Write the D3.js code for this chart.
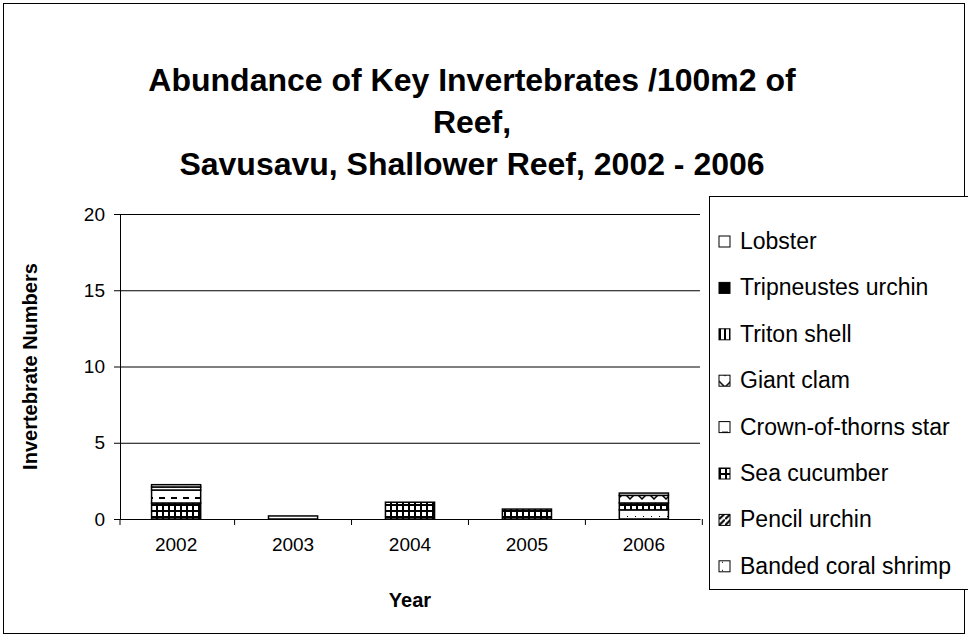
<!DOCTYPE html>
<html>
<head>
<meta charset="utf-8">
<script src="https://cdn.jsdelivr.net/npm/d3@7"></script>
<style>
  body { margin: 0; background: #fff; }
  text { font-family: "Liberation Sans", Arial, sans-serif; }
</style>
</head>
<body>
<script>
const w = 968;
const h = 637;

// data
const years = ['2002', '2003', '2004', '2005', '2006'];
// stacked bottom -> top (legend shows them reversed)
const species = ['Banded coral shrimp', 'Pencil urchin', 'Sea cucumber', 'Crown-of-thorns star',
  'Giant clam', 'Triton shell', 'Tripneustes urchin', 'Lobster'];
const bandedShrimp = [0, 0, 0, 0, 0.6];
const pencilUrchin = [0, 0, 0, 0, 0];
const seaCucumber = [1.05, 0, 1.1, 0.65, 0.45];
const crownOfThorns = [0.85, 0.2, 0, 0, 0];
const giantClam = [0.2, 0, 0, 0, 0.5];
const tritonShell = [0, 0, 0, 0, 0];
const tripneustes = [0, 0, 0, 0, 0];
const lobster = [0.15, 0, 0, 0, 0.15];
const yTicks = [0, 5, 10, 15, 20];

const seriesValues = [bandedShrimp, pencilUrchin, seaCucumber, crownOfThorns,
  giantClam, tritonShell, tripneustes, lobster];

let rows = years.map((yr, i) => {
  let r = { year: yr };
  species.forEach((s, j) => (r[s] = seriesValues[j][i]));
  return r;
});

let svg = d3.select('body').append('svg').attr('width', w).attr('height', h);

// patterns (black & white fills like the original)
let defs = svg.append('defs');
function pat(id, size, draw) {
  let p = defs.append('pattern').attr('id', id).attr('patternUnits', 'userSpaceOnUse')
    .attr('width', size).attr('height', size);
  p.append('rect').attr('width', size).attr('height', size).attr('fill', '#fff');
  draw(p);
}
pat('p0', 8, (p) => p.append('rect').attr('x', 3).attr('y', 4).attr('width', 1).attr('height', 1).attr('fill', '#000'));
pat('p1', 6, (p) => p.append('path').attr('d', 'M0,6 L6,0').attr('stroke', '#000').attr('stroke-width', 2));
pat('p2', 6, (p) => {
  p.append('rect').attr('x', 0).attr('y', 0).attr('width', 2).attr('height', 6).attr('fill', '#000');
  p.append('rect').attr('x', 0).attr('y', 0).attr('width', 6).attr('height', 2).attr('fill', '#000');
});
pat('p3', 12, (p) => p.append('rect').attr('x', 3).attr('y', 5).attr('width', 6).attr('height', 2).attr('fill', '#000'));
pat('p4', 12, (p) => p.append('path').attr('d', 'M0,1 L6,7 L12,1').attr('fill', 'none').attr('stroke', '#000').attr('stroke-width', 1.5));
pat('p5', 5, (p) => p.append('rect').attr('x', 0).attr('y', 0).attr('width', 2).attr('height', 5).attr('fill', '#000'));
pat('p6', 4, (p) => p.append('rect').attr('width', 4).attr('height', 4).attr('fill', '#000'));
pat('p7', 4, (p) => {});

// outer frame
svg.append('rect').attr('x', 3.5).attr('y', 3.5).attr('width', w - 7).attr('height', h - 7)
  .attr('fill', 'none').attr('stroke', '#000');

// title
let title = svg.append('text').attr('text-anchor', 'middle').attr('font-size', 32)
  .attr('font-weight', 'bold');
['Abundance of Key Invertebrates /100m2 of', 'Reef,', 'Savusavu, Shallower Reef, 2002 - 2006']
  .forEach((t, i) => title.append('tspan').attr('x', 472).attr('y', 91 + i * 42).text(t));

const m = { left: 120, right: 700, top: 214, bottom: 519 };

let x = d3.scaleBand().domain(years).range([m.left, m.right]).paddingInner(0.58).paddingOuter(0.27);
let y = d3.scaleLinear().domain([0, 20]).range([m.bottom, m.top]);

// gridlines
svg.append('g').selectAll('line').data(yTicks.slice(1)).enter().append('line')
  .attr('x1', m.left).attr('x2', m.right)
  .attr('y1', (d) => y(d) + 0.5).attr('y2', (d) => y(d) + 0.5)
  .attr('stroke', '#000');

// bars
let stack = d3.stack().keys(species)(rows);
svg.append('g').selectAll('g').data(stack).enter().append('g')
  .attr('fill', (d, i) => 'url(#p' + i + ')')
  .selectAll('rect').data((d) => d.filter((v) => v[1] - v[0] > 0)).enter().append('rect')
  .attr('x', (d) => x(d.data.year))
  .attr('width', x.bandwidth())
  .attr('y', (d) => y(d[1]))
  .attr('height', (d) => y(d[0]) - y(d[1]))
  .attr('stroke', '#000').attr('stroke-width', 1.5);

// axes
let yAxis = svg.append('g').attr('transform', 'translate(' + m.left + ',0)')
  .call(d3.axisLeft(y).tickValues(yTicks).tickSize(6).tickPadding(9));
let xAxis = svg.append('g').attr('transform', 'translate(0,' + m.bottom + ')')
  .call(d3.axisBottom(x).tickSize(0).tickPadding(19));
xAxis.selectAll('.tick').append('line').attr('x1', x.step() / 2).attr('x2', x.step() / 2)
  .attr('y2', 6).attr('stroke', '#000');
xAxis.append('line').attr('x1', m.left).attr('x2', m.left).attr('y2', 6).attr('stroke', '#000');
[yAxis, xAxis].forEach((a) => {
  a.select('.domain').attr('stroke', '#000');
  a.selectAll('text').attr('font-size', 19).attr('fill', '#000')
    .attr('font-family', '"Liberation Sans", Arial, sans-serif');
});

// axis titles
svg.append('text').attr('transform', 'translate(37,' + (m.top + m.bottom) / 2 + ') rotate(-90)')
  .attr('text-anchor', 'middle').attr('font-size', 20).attr('font-weight', 'bold')
  .text('Invertebrate Numbers');
svg.append('text').attr('x', 410).attr('y', 607)
  .attr('text-anchor', 'middle').attr('font-size', 20).attr('font-weight', 'bold').text('Year');

// legend
svg.append('rect').attr('x', 709.5).attr('y', 196.5).attr('width', 262).attr('height', 393)
  .attr('fill', '#fff').attr('stroke', '#000');
let legendItems = species.slice().reverse();
let lg = svg.append('g').selectAll('g').data(legendItems).enter().append('g')
  .attr('transform', (d, i) => 'translate(719,' + (241 + i * 46.4) + ')');
lg.append('rect').attr('x', 0).attr('y', -5).attr('width', 11).attr('height', 11)
  .attr('fill', (d) => 'url(#p' + species.indexOf(d) + ')').attr('stroke', '#000');
lg.append('text').attr('x', 21).attr('y', 8).attr('font-size', 23).text((d) => d);
</script>
</body>
</html>
